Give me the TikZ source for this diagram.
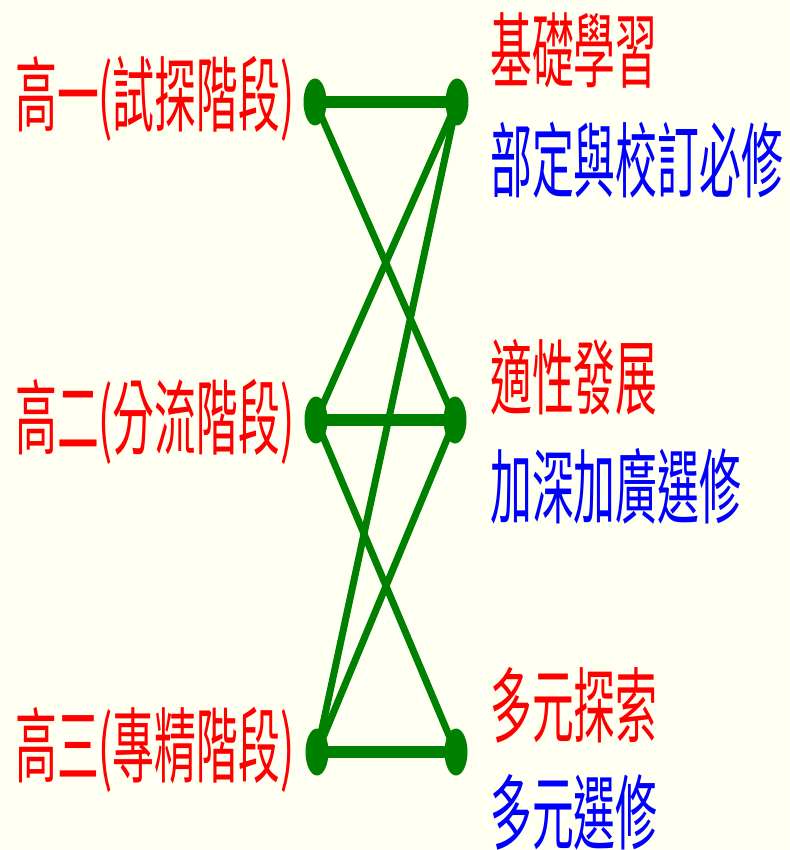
\documentclass[tikz,border=0pt]{standalone}
\usepackage{fontspec}
\newfontfamily\cjk{Noto Sans CJK TC}
\usetikzlibrary{shapes.geometric}
\definecolor{bgcream}{HTML}{FFFFF2}
\definecolor{dotgreen}{HTML}{008000}
\definecolor{lblred}{HTML}{FF0000}
\definecolor{lblblue}{HTML}{0000FF}
\newcommand{\lbl}[1]{\scalebox{0.51}[1]{\cjk\fontsize{82}{82}\selectfont #1}}
\tikzset{
  dot/.style={ellipse, fill=dotgreen, minimum width=23pt, minimum height=47pt, inner sep=0pt},
  bar/.style={dotgreen, line width=12pt},
  link/.style={dotgreen, line width=7pt},
  redlbl/.style={anchor=west, inner sep=0pt, text=lblred},
  bluelbl/.style={anchor=west, inner sep=0pt, text=lblblue}
}
\begin{document}
\begin{tikzpicture}[x=1pt,y=-1pt]
\fill[bgcream] (0,0) rectangle (789,850);
\useasboundingbox (0,0) rectangle (789,850);
% dots
\node[dot] (l1) at (315,102) {};
\node[dot] (r1) at (457,102) {};
\node[dot] (l2) at (316,420) {};
\node[dot] (r2) at (455,420) {};
\node[dot] (l3) at (317,752) {};
\node[dot] (r3) at (456,752) {};
% connectors
\draw[bar] (l1.center) -- (r1.center);
\draw[bar] (l2.center) -- (r2.center);
\draw[bar] (l3.center) -- (r3.center);
\draw[link] (l1.center) -- (r2.center);
\draw[link] (r1.center) -- (l2.center);
\draw[link] (r1.center) -- (l3.center);
\draw[link] (l2.center) -- (r3.center);
\draw[link] (r2.center) -- (l3.center);
% left labels
\node[redlbl] (t1) at (15,99) {\lbl{高一(試探階段)}};
\node[redlbl] (t2) at (15,422) {\lbl{高二(分流階段)}};
\node[redlbl] (t3) at (15,750) {\lbl{高三(專精階段)}};
% right labels
\node[redlbl] (a1) at (490,50) {\lbl{基礎學習}};
\node[bluelbl] (b1) at (490,160) {\lbl{部定與校訂必修}};
\node[redlbl] (a2) at (490,377) {\lbl{適性發展}};
\node[bluelbl] (b2) at (490,486) {\lbl{加深加廣選修}};
\node[redlbl] (a3) at (490,705) {\lbl{多元探索}};
\node[bluelbl] (b3) at (490,812) {\lbl{多元選修}};
\end{tikzpicture}
\end{document}
